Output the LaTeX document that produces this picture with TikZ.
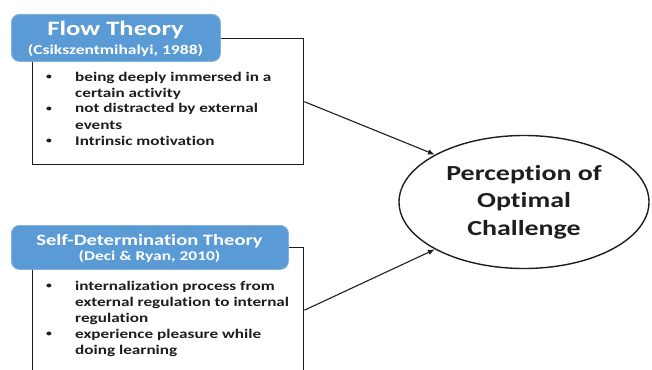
\documentclass[tikz,border=0pt]{standalone}
\usepackage{fontspec}
\setmainfont{Carlito}[FakeStretch=1.3,Ligatures=NoCommon]
\usetikzlibrary{shapes.geometric,arrows.meta}
\definecolor{hdrblue}{HTML}{5B9BD5}
\definecolor{hdrline}{HTML}{86B3DE}
\definecolor{ink}{HTML}{1E1E1E}
\newcommand{\dotmark}{\raisebox{1.6pt}{\fontsize{9}{9}\selectfont•}}
\begin{document}
\begin{tikzpicture}[x=1pt,y=-1pt,
  panel/.style={draw=ink,line width=1.4pt,fill=white,inner sep=0,anchor=north west},
  header/.style={fill=hdrblue,draw=hdrline,line width=0.8pt,rounded corners=8pt,inner sep=0,anchor=north west},
  hdrtitle/.style={text=white,inner sep=0,anchor=base},
  bullets/.style={inner sep=0,anchor=base west,text=ink,font=\bfseries\fontsize{13.2}{16}\selectfont},
  link/.style={draw=ink,line width=1.1pt,-{Latex[length=7pt,width=5.5pt]}}
]
\useasboundingbox (0,0) rectangle (652,369);
\clip (0,0) rectangle (652,369);

% Flow theory panel
\node[panel,minimum width=271pt,minimum height=126pt] (flowbox) at (32,38) {};
\node[header,minimum width=209pt,minimum height=47pt] (flowhdr) at (11,14) {};
\node[hdrtitle,font=\bfseries\fontsize{20.5}{24}\selectfont] (flowtitle) at (115.5,36) {Flow Theory};
\node[hdrtitle,font=\bfseries\fontsize{13.5}{15}\selectfont] (flowcite) at (115.5,54) {(Csikszentmihalyi, 1988)};
\node[bullets] (flowlist) at (46,81) {%
  \begin{tabular}[t]{@{}p{29pt}@{}l@{}}
  \dotmark & being deeply immersed in a\\
           & certain activity\\
  \dotmark & not distracted by external\\
           & events\\
  \dotmark & Intrinsic motivation
  \end{tabular}};

% Self-determination theory panel
\node[panel,minimum width=271pt,minimum height=125pt] (sdtbox) at (32,247) {};
\node[header,minimum width=277pt,minimum height=44pt] (sdthdr) at (11,225) {};
\node[hdrtitle,font=\bfseries\fontsize{15.8}{18}\selectfont] (sdttitle) at (149.5,245) {Self-Determination Theory};
\node[hdrtitle,font=\bfseries\fontsize{13.4}{15}\selectfont] (sdtcite) at (149.5,260) {(Deci \& Ryan, 2010)};
\node[bullets] (sdtlist) at (46,290) {%
  \begin{tabular}[t]{@{}p{29pt}@{}l@{}}
  \dotmark & internalization process from\\
           & external regulation to internal\\
           & regulation\\
  \dotmark & experience pleasure while\\
           & doing learning
  \end{tabular}};

% Outcome
\node[ellipse,draw=ink,line width=1.4pt,fill=white,minimum width=250pt,minimum height=133pt,
      inner sep=0,align=center,text=ink,font=\bfseries\fontsize{21.5}{27.5}\selectfont] (goal) at (524,202)
      {Perception of\\Optimal\\Challenge};

\draw[link] (flowbox.east) -- (goal.152);
\draw[link] (sdtbox.east) -- (goal.208);
\end{tikzpicture}
\end{document}
